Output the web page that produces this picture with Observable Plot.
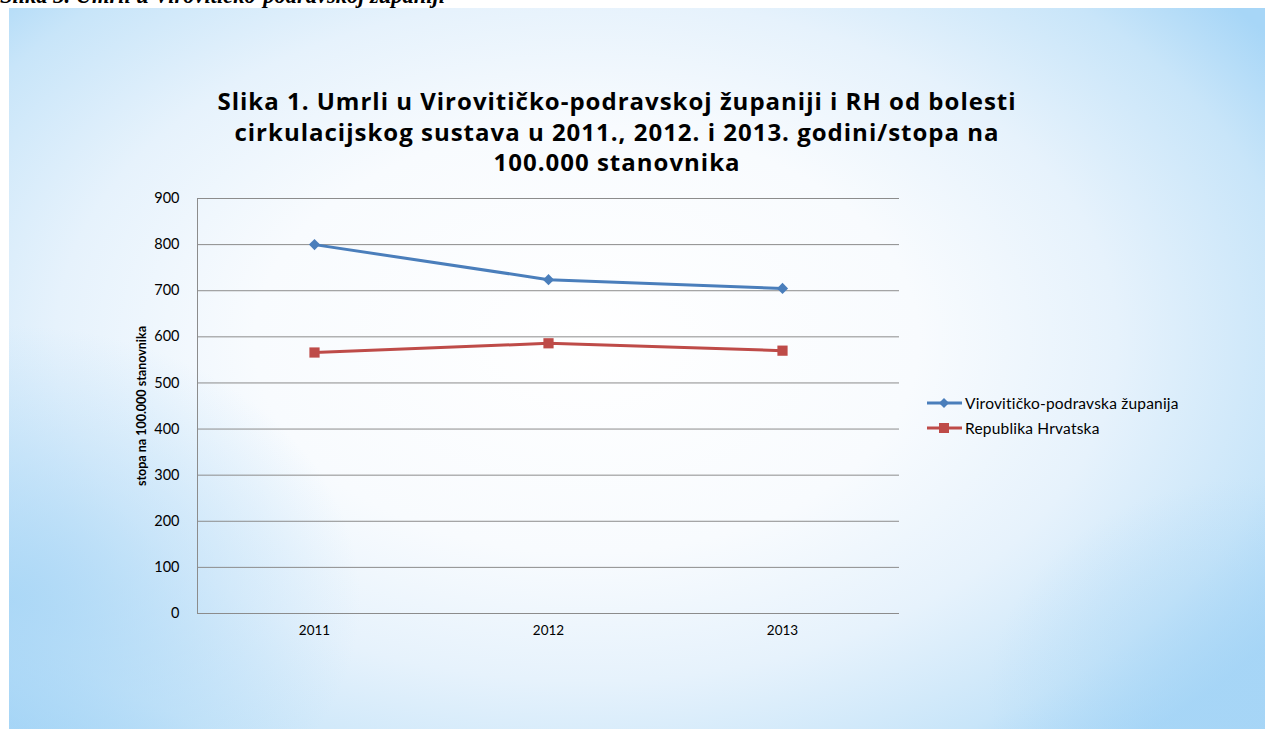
<!DOCTYPE html>
<html><head><meta charset="utf-8">
<script src="https://cdn.jsdelivr.net/npm/d3@7"></script>
<script src="https://cdn.jsdelivr.net/npm/@observablehq/plot@0.6"></script>
<style>
body{margin:0;width:1265px;height:729px;position:relative;overflow:hidden;background:#fff;font-family:Lato,sans-serif}
#cut{position:absolute;left:0;top:-17px;font:bold italic 22.5px "Liberation Serif",serif;white-space:nowrap;color:#000;z-index:0}
#panel{position:absolute;left:9px;top:8px;width:1256px;height:721px;z-index:1;
background:
radial-gradient(ellipse 28% 38% at 0% 82%, rgba(166,213,246,0.85) 0%, rgba(166,213,246,0) 100%),
radial-gradient(ellipse 22% 30% at 100% 95%, rgba(166,213,246,0.7) 0%, rgba(166,213,246,0) 100%),
radial-gradient(ellipse 66% 74% at 46% 46%, #ffffff 0%, #f8fbfe 40%, #e6f2fc 64%, #c8e5f9 86%, #a7d6f7 100%);}
#chart{position:absolute;left:0;top:0;z-index:2}
#title{position:absolute;left:67px;width:1100px;top:86px;text-align:center;font:bold 24px "Open Sans",sans-serif;letter-spacing:1px;line-height:30.5px;color:#000;z-index:3}
#legend{position:absolute;left:927px;top:390px;z-index:3;font:15.5px Lato,sans-serif;letter-spacing:0.2px;color:#000}
#legend .item{display:flex;align-items:center;height:25px}
#legend svg{margin-right:2px}
</style></head>
<body>
<div id="cut">Slika 3. Umrli u Virovitičko-podravskoj županiji</div>
<div id="panel"></div>
<div id="title">Slika 1. Umrli u Virovitičko-podravskoj županiji i RH od bolesti<br>cirkulacijskog sustava u 2011., 2012. i 2013. godini/stopa na<br>100.000 stanovnika</div>
<div id="chart"></div>
<div id="legend"></div>
<script>
const years = ["2011", "2012", "2013"];
const virovitica = [800, 724, 705];
const hrvatska = [566, 586, 570];
const seriesNames = ["Virovitičko-podravska županija", "Republika Hrvatska"];
const seriesColors = ["#4a7ebb", "#be4b48"];
const yTicks = [0, 100, 200, 300, 400, 500, 600, 700, 800, 900];
const yLabel = "stopa na 100.000 stanovnika";

const data = [
  ...years.map((y, i) => ({year: y, value: virovitica[i], series: seriesNames[0]})),
  ...years.map((y, i) => ({year: y, value: hrvatska[i], series: seriesNames[1]}))
];
const s0 = data.filter(d => d.series === seriesNames[0]);
const s1 = data.filter(d => d.series === seriesNames[1]);

const chart = Plot.plot({
  width: 1265,
  height: 729,
  marginLeft: 197,
  marginRight: 366,
  marginTop: 198,
  marginBottom: 116,
  style: {background: "transparent", fontFamily: "Lato, sans-serif", fontSize: "14px", color: "#000"},
  x: {type: "point", domain: years, padding: 0.5, label: null},
  y: {domain: [0, 900], ticks: yTicks, label: null},
  color: {domain: seriesNames, range: seriesColors},
  marks: [
    Plot.gridY(yTicks, {stroke: "#8c8c8c", strokeOpacity: 1, strokeWidth: 1}),
    Plot.frame({anchor: "left", stroke: "#8c8c8c", strokeOpacity: 1}),
    Plot.axisY(yTicks, {tickSize: 0, tickPadding: 18, fontSize: 14.5, fill: "#000"}),
    Plot.axisX({tickSize: 0, tickPadding: 12, fontSize: 13.5, fill: "#000"}),
    Plot.line(data, {x: "year", y: "value", stroke: "series", z: "series", strokeWidth: 3}),
    Plot.dot(s0, {x: "year", y: "value", fill: "series", symbol: "diamond2", r: 5}),
    Plot.dot(s1, {x: "year", y: "value", fill: "series", symbol: "square2", r: 6.5}),
    Plot.text([yLabel], {frameAnchor: "left", dx: -56, rotate: -90, textAnchor: "middle", fontWeight: "bold", fontSize: 12.5, text: d => d, fill: "#000"})
  ]
});
document.getElementById("chart").appendChild(chart);

const legend = d3.select("#legend");
seriesNames.forEach((name, i) => {
  const item = legend.append("div").attr("class", "item");
  const svg = item.append("svg").attr("width", 36).attr("height", 14);
  svg.append("line").attr("x1", 0).attr("x2", 35).attr("y1", 7).attr("y2", 7)
    .attr("stroke", seriesColors[i]).attr("stroke-width", 3);
  if (i === 0) {
    svg.append("path").attr("d", d3.symbol(d3.symbolSquare, 50)()).attr("transform", "translate(17,7) rotate(45)").attr("fill", seriesColors[i]);
  } else {
    svg.append("rect").attr("x", 12).attr("y", 2).attr("width", 10).attr("height", 10).attr("fill", seriesColors[i]);
  }
  item.append("span").text(name);
});
</script>
</body></html>
